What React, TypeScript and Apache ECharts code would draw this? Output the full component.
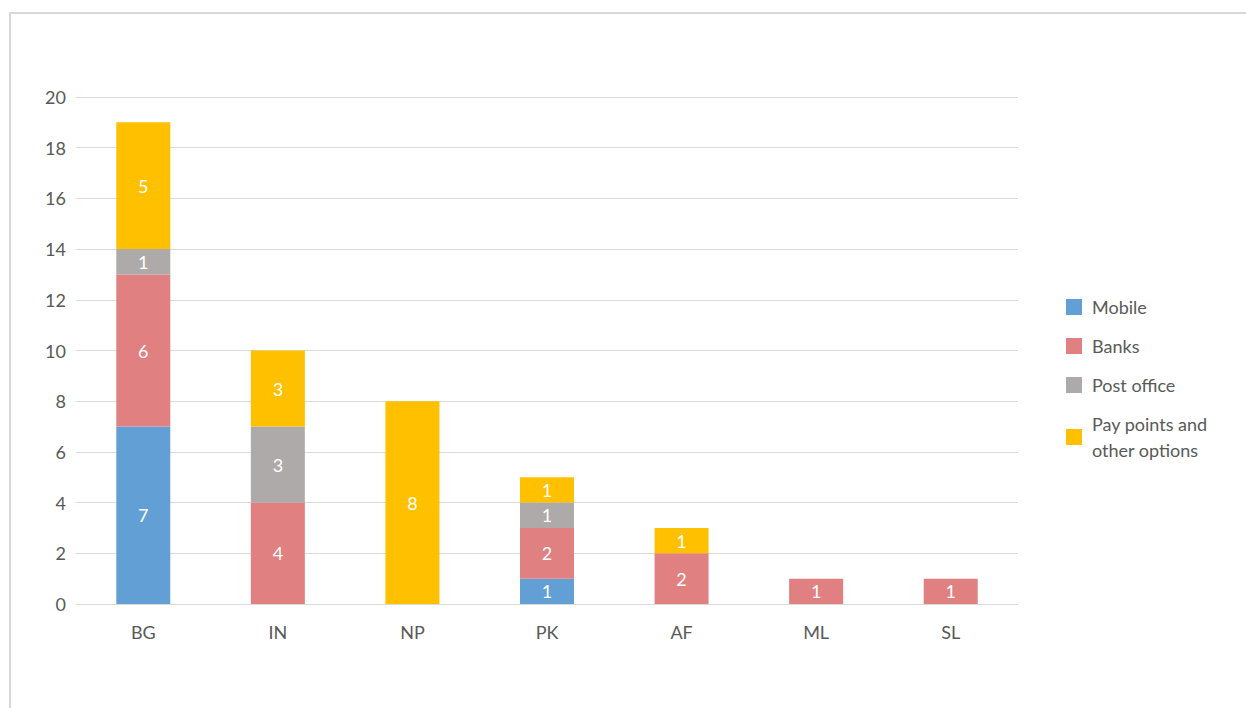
import React, { useEffect, useRef } from "react";
import * as echarts from "echarts";

const categories = ["BG", "IN", "NP", "PK", "AF", "ML", "SL"];
const seriesNames = ["Mobile", "Banks", "Post office", "Pay points and other options"];
const mobile = [7, null, null, 1, null, null, null];
const banks = [6, 4, null, 2, 2, 1, 1];
const postOffice = [1, 3, null, 1, null, null, null];
const payPoints = [5, 3, 8, 1, 1, null, null];
const colors = ["#629fd5", "#e08081", "#aeaaaa", "#ffc000"];
const yTicks = { min: 0, max: 20, interval: 2 };

const FONT = "Lato";

export default function App() {
  const ref = useRef<HTMLDivElement>(null);
  useEffect(() => {
    document.body.style.margin = "0";
    const chart = echarts.init(ref.current!, null, { renderer: "svg" });
    const dataSets = [mobile, banks, postOffice, payPoints];
    chart.setOption({
      animation: false,
      textStyle: { fontFamily: FONT },
      grid: { left: 76, right: 228, top: 97, bottom: 104 },
      graphic: [
        {
          type: "rect",
          shape: { x: 10, y: 13, width: 1400, height: 900 },
          style: { fill: "none", stroke: "#d9d9d9", lineWidth: 2 },
          silent: true,
        },
      ],
      legend: {
        orient: "vertical",
        left: 1061,
        top: 289,
        itemWidth: 16,
        itemHeight: 16,
        itemGap: 13,
        icon: "rect",
        data: seriesNames,
        formatter: (n: string) => (n === "Pay points and other options" ? "Pay points and\nother options" : n),
        textStyle: { color: "#595959", fontSize: 18, fontFamily: FONT, lineHeight: 26, padding: [0, 0, 0, 5] },
      },
      xAxis: {
        type: "category",
        data: categories,
        axisLine: { lineStyle: { color: "#d9d9d9", width: 1 } },
        axisTick: { show: false },
        axisLabel: { color: "#595959", fontSize: 18, fontFamily: FONT, margin: 19 },
      },
      yAxis: {
        type: "value",
        min: yTicks.min,
        max: yTicks.max,
        interval: yTicks.interval,
        axisLine: { show: false },
        axisTick: { show: false },
        splitLine: { lineStyle: { color: "#d9d9d9", width: 1 } },
        axisLabel: { color: "#595959", fontSize: 18, fontFamily: FONT, margin: 10 },
      },
      series: seriesNames.map((name, i) => ({
        name,
        type: "bar",
        stack: "total",
        barWidth: 54,
        data: dataSets[i],
        itemStyle: { color: colors[i] },
        label: { show: true, position: "inside", color: "#ffffff", fontSize: 18, fontFamily: FONT },
      })),
    });
    return () => chart.dispose();
  }, []);
  return <div ref={ref} style={{ width: 1246, height: 708 }} />;
}
